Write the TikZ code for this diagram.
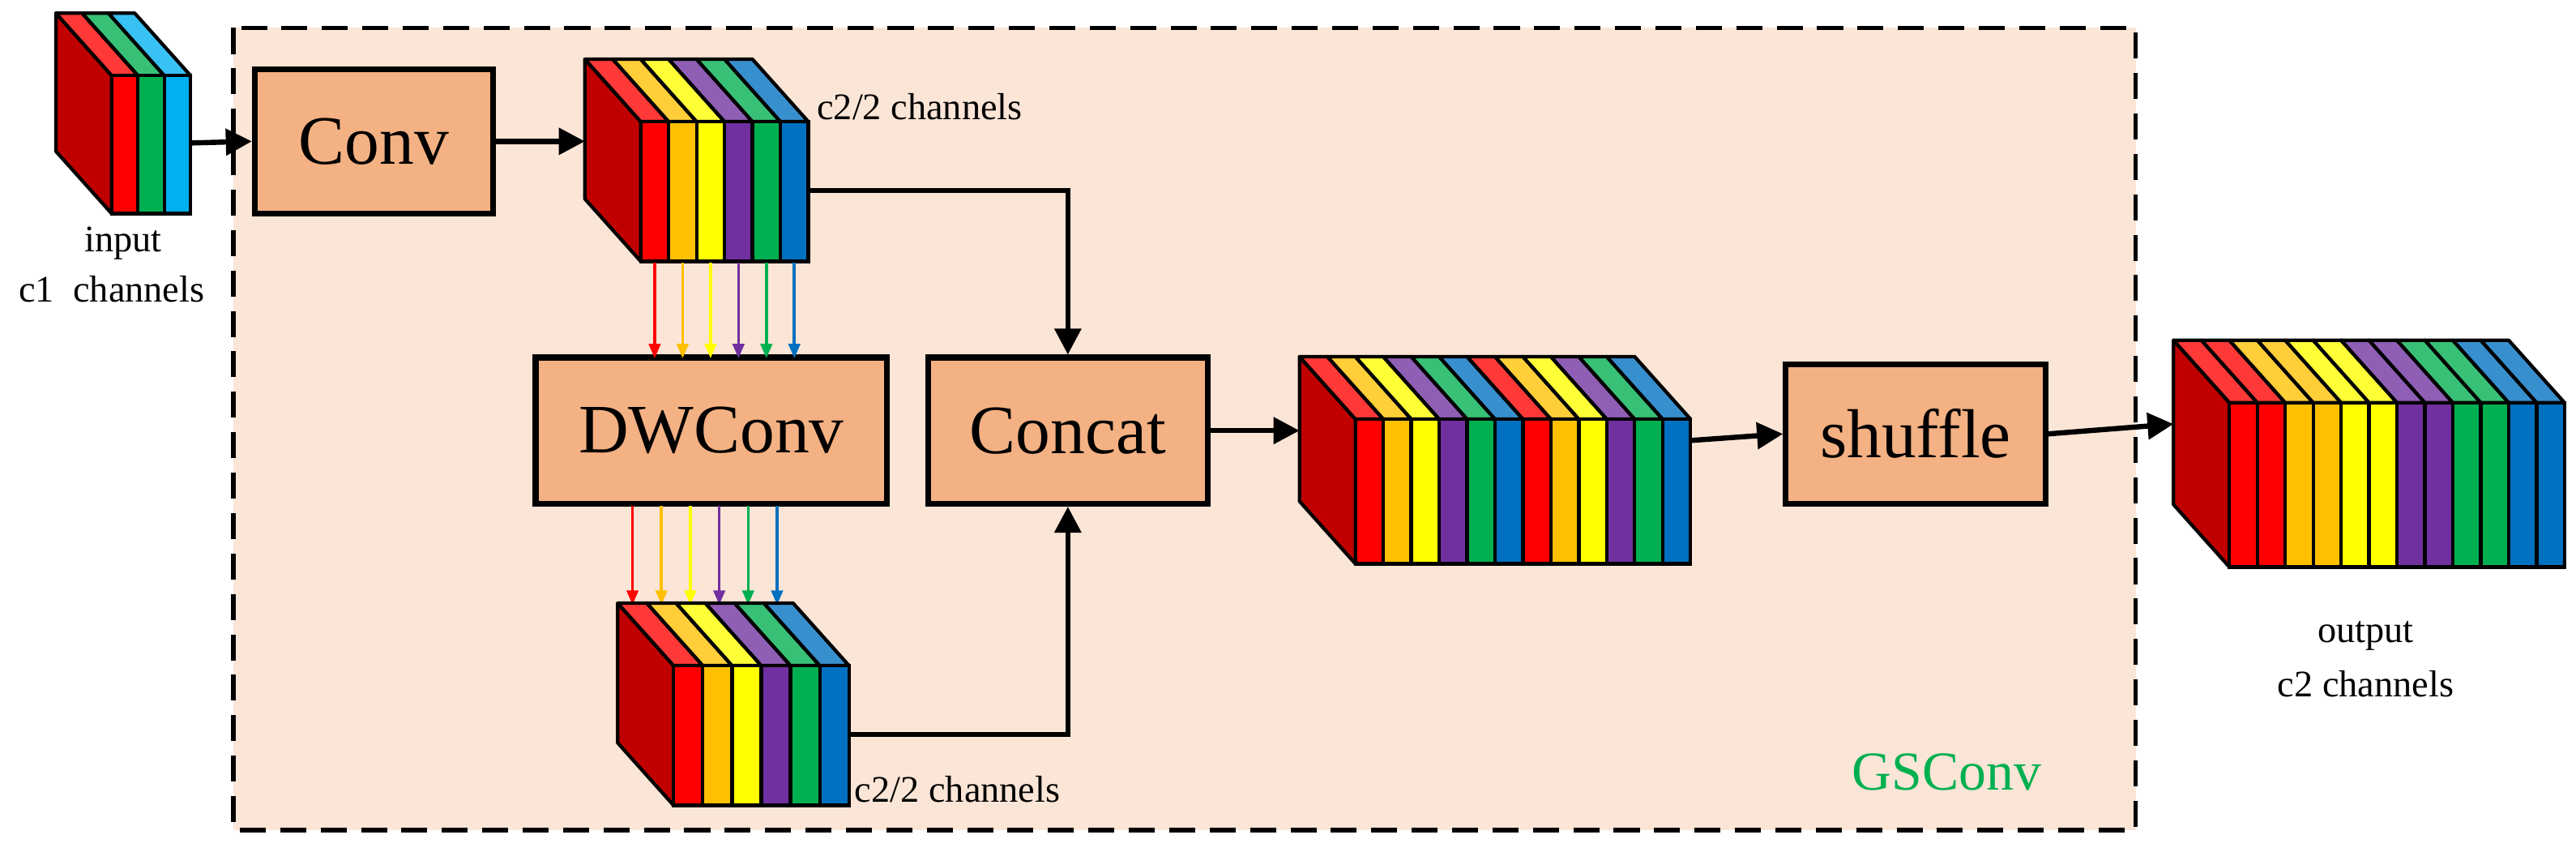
\documentclass[tikz,border=0pt]{standalone}
\usepackage{fontspec}
\setmainfont{Liberation Serif}
\usetikzlibrary{arrows.meta}
\definecolor{cR}{HTML}{FF0000}
\definecolor{cO}{HTML}{FFC000}
\definecolor{cY}{HTML}{FFFF00}
\definecolor{cP}{HTML}{7030A0}
\definecolor{cG}{HTML}{00B050}
\definecolor{cB}{HTML}{0070C0}
\definecolor{cC}{HTML}{00B0F0}
\definecolor{leftc}{HTML}{C00000}
\definecolor{bgc}{HTML}{FBE5D6}
\definecolor{boxc}{HTML}{F4B183}
\newcommand\mystack[5]{%
  \filldraw[fill=leftc,line width=1.2pt,line join=round] (#1,#3) -- (#1,#2) -- (#1-34,#2-38) -- (#1-34,#3-38) -- cycle;
  \foreach \c [count=\i from 0] in {#5} {
    \pgfmathsetmacro\xa{#1+\i*#4}\pgfmathsetmacro\xb{#1+\i*#4+#4}
    \filldraw[fill=\c!78!white,line width=1.2pt,line join=round] (\xa,#2) -- (\xb,#2) -- (\xb-34,#2-38) -- (\xa-34,#2-38) -- cycle;
    \filldraw[fill=\c,line width=1.2pt] (\xa,#2) rectangle (\xb,#3);
  }}
\begin{document}
\begin{tikzpicture}[x=0.02cm,y=-0.02cm,
  blk/.style={draw=black,fill=boxc,line width=2pt,inner sep=0pt,font=\fontsize{24}{28}\selectfont},
  lbl/.style={font=\fontsize{13}{15}\selectfont,inner sep=0pt},
  arr/.style={line width=1.8pt,-{Triangle[length=9pt,width=9pt]}},
  carr/.style={line width=1pt,-{Triangle[length=5pt,width=4pt]}}]
\useasboundingbox (0,0) rectangle (1568,518);
\draw[fill=bgc,line width=1.5pt,dash pattern=on 9pt off 5pt] (142,17) rectangle (1300,505);

% input stack
\mystack{68}{46}{130}{16}{cR,cG,cC}
\coordinate (inR) at (116,87);
\node[lbl] (in1) at (75,148) {input};
\node[lbl] (in2) at (68,176) {c1~~channels};

% Conv
\node[blk,minimum width=2.9cm,minimum height=1.76cm] (conv) at (227.5,86) {Conv};
\draw[arr] (inR) -- (conv.west);
\mystack{390}{74}{159}{17}{cR,cO,cY,cP,cG,cB}
\coordinate (s1L) at (356,86);
\coordinate (s1R) at (492,116);
\draw[arr] (conv.east) -- (s1L);
\node[lbl,anchor=west] (l1) at (497,65) {c2/2 channels};

% DWConv
\node[blk,minimum width=4.28cm,minimum height=1.78cm] (dw) at (433,262) {DWConv};
\foreach \c [count=\i from 0] in {cR,cO,cY,cP,cG,cB} {
  \coordinate (a\i) at ({398.5+\i*17},160);
  \coordinate (b\i) at ({398.5+\i*17},218);
  \draw[carr,\c] (a\i) -- (b\i);
  \coordinate (c\i) at ({385+\i*17.6},308);
  \coordinate (d\i) at ({385+\i*17.6},368);
  \draw[carr,\c] (c\i) -- (d\i);
}

% bottom stack
\mystack{410}{405}{490}{17.8}{cR,cO,cY,cP,cG,cB}
\coordinate (s2R) at (517,447);
\node[lbl,anchor=west] (l2) at (520,480) {c2/2 channels};

% Concat
\node[blk,minimum width=3.4cm,minimum height=1.78cm] (cat) at (650,262) {Concat};
\draw[arr] (s1R) -| (cat.north);
\draw[arr] (s2R) -| (cat.south);

% concat stack
\mystack{825}{255}{343}{17}{cR,cO,cY,cP,cG,cB,cR,cO,cY,cP,cG,cB}
\coordinate (s3L) at (791,262);
\coordinate (s3R) at (1029,268);
\draw[arr] (cat.east) -- (s3L);

% shuffle
\node[blk,minimum width=3.16cm,minimum height=1.7cm] (sh) at (1166,264) {shuffle};
\draw[arr] (s3R) -- (sh.west);

% output stack
\mystack{1357}{245}{345}{17}{cR,cR,cO,cO,cY,cY,cP,cP,cG,cG,cB,cB}
\coordinate (s4L) at (1323,258);
\draw[arr] (sh.east) -- (s4L);
\node[lbl] (o1) at (1440,387) {output};
\node[lbl] (o2) at (1440,416) {c2 channels};

\node[font=\fontsize{19}{22}\selectfont,text=cG] (gs) at (1185,470) {GSConv};
\end{tikzpicture}
\end{document}
